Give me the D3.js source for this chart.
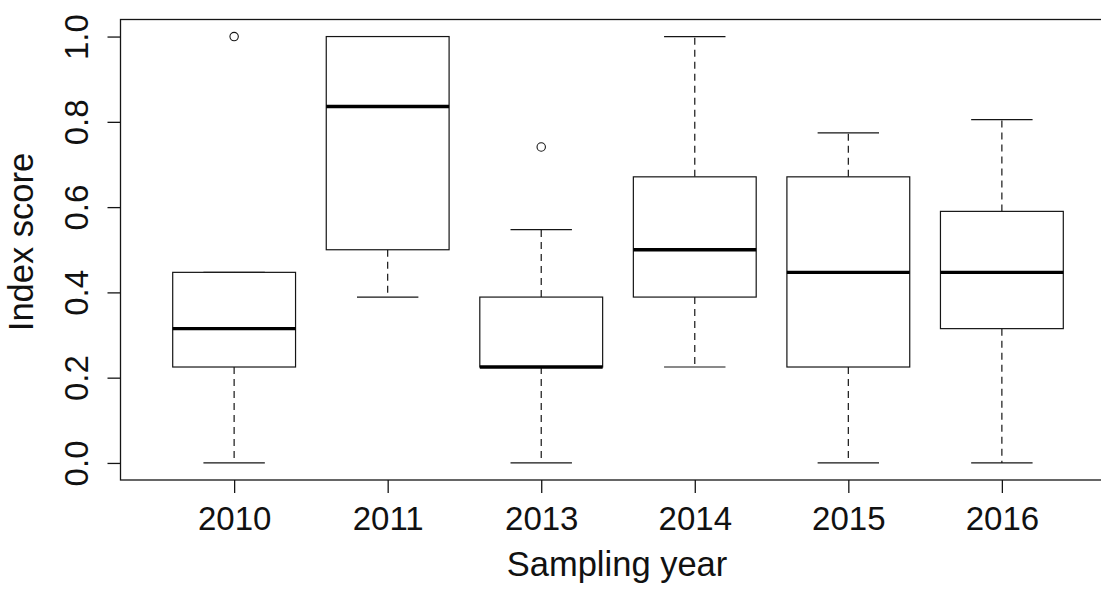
<!DOCTYPE html>
<html>
<head>
<meta charset="utf-8">
<script src="https://cdn.jsdelivr.net/npm/d3@7"></script>
<style>
  html, body { margin: 0; padding: 0; background: #fff; }
  svg { display: block; }
  text { font-family: "Liberation Sans", Arial, Helvetica, sans-serif; fill: #111; }
</style>
</head>
<body>
<svg id="chart" width="1101" height="590"></svg>
<script>
// Sampling years (categories) and five-number summaries per year
const years      = ["2010", "2011", "2013", "2014", "2015", "2016"];
const whiskerLow = [0.000, 0.389, 0.000, 0.225, 0.000, 0.000];
const q1         = [0.225, 0.500, 0.225, 0.389, 0.225, 0.315];
const medians    = [0.315, 0.836, 0.225, 0.500, 0.447, 0.447];
const q3         = [0.447, 1.000, 0.389, 0.671, 0.671, 0.590];
const whiskerHigh= [0.447, 1.000, 0.547, 1.000, 0.774, 0.805];
const outliers   = [[1.000], [], [0.741], [], [], []];
const yTicks     = [0, 0.2, 0.4, 0.6, 0.8, 1.0];

const boxes = years.map((yr, i) => ({
  year: yr, pos: i + 1,
  lo: whiskerLow[i], q1: q1[i], med: medians[i], q3: q3[i], hi: whiskerHigh[i],
  out: outliers[i]
}));

const svg = d3.select("#chart");
const ink = "#151515";

// Positions 1..n with R-style padding of 4% around [0.5, n + 0.5]
const x = d3.scaleLinear().domain([0.26, 6.74]).range([120.5, 1115.5]);
const y = d3.scaleLinear().domain([-0.04, 1.04]).range([480, 19.5]);

const unit = x(2) - x(1);
const boxW = 0.8 * unit;
const capW = boxW / 2;

const g = svg.append("g");

// Whiskers (dashed) and staples
const wg = g.selectAll("g.box").data(boxes).join("g").attr("class", "box");
wg.append("line")
  .attr("x1", d => x(d.pos)).attr("x2", d => x(d.pos))
  .attr("y1", d => y(d.q1)).attr("y2", d => y(d.lo))
  .attr("stroke", ink).attr("stroke-width", 1.2).attr("stroke-dasharray", "7,5");
wg.append("line")
  .attr("x1", d => x(d.pos)).attr("x2", d => x(d.pos))
  .attr("y1", d => y(d.q3)).attr("y2", d => y(d.hi))
  .attr("stroke", ink).attr("stroke-width", 1.2).attr("stroke-dasharray", "7,5");
wg.append("line")
  .attr("x1", d => x(d.pos) - capW / 2).attr("x2", d => x(d.pos) + capW / 2)
  .attr("y1", d => y(d.lo)).attr("y2", d => y(d.lo))
  .attr("stroke", ink).attr("stroke-width", 1.2);
wg.append("line")
  .attr("x1", d => x(d.pos) - capW / 2).attr("x2", d => x(d.pos) + capW / 2)
  .attr("y1", d => y(d.hi)).attr("y2", d => y(d.hi))
  .attr("stroke", ink).attr("stroke-width", 1.2);

// Interquartile boxes
wg.append("rect")
  .attr("x", d => x(d.pos) - boxW / 2)
  .attr("y", d => y(d.q3))
  .attr("width", boxW)
  .attr("height", d => y(d.q1) - y(d.q3))
  .attr("fill", "#fff").attr("stroke", ink).attr("stroke-width", 1.2);

// Medians
wg.append("line")
  .attr("x1", d => x(d.pos) - boxW / 2).attr("x2", d => x(d.pos) + boxW / 2)
  .attr("y1", d => y(d.med)).attr("y2", d => y(d.med))
  .attr("stroke", "#000").attr("stroke-width", 3.4);

// Outlying points
wg.selectAll("circle")
  .data(d => d.out.map(v => ({ pos: d.pos, v })))
  .join("circle")
  .attr("cx", d => x(d.pos)).attr("cy", d => y(d.v))
  .attr("r", 4.2).attr("fill", "none").attr("stroke", ink).attr("stroke-width", 1.1);

// Plot frame
svg.append("rect")
  .attr("x", x(0.26)).attr("y", y(1.04))
  .attr("width", x(6.74) - x(0.26)).attr("height", y(-0.04) - y(1.04))
  .attr("fill", "none").attr("stroke", ink).attr("stroke-width", 1.3);

// Y axis with rotated labels
const yAxis = svg.append("g")
  .attr("transform", `translate(${x(0.26)},0)`)
  .call(d3.axisLeft(y).tickValues(yTicks).tickSize(13).tickFormat(d3.format(".1f")));
yAxis.select(".domain").remove();
yAxis.selectAll(".tick line").attr("stroke", ink).attr("stroke-width", 1.3);
yAxis.selectAll(".tick text")
  .attr("transform", "rotate(-90)")
  .attr("x", 0).attr("y", -32.5).attr("dy", 0)
  .attr("text-anchor", "middle")
  .style("font-size", "33px").style("font-family", "'Liberation Sans', Arial, sans-serif")
  .attr("fill", "#111");

// X axis with year labels
const xAxis = svg.append("g")
  .attr("transform", `translate(0,${y(-0.04)})`)
  .call(d3.axisBottom(x).tickValues(boxes.map(d => d.pos)).tickSize(13)
    .tickFormat((d, i) => years[i]));
xAxis.select(".domain").remove();
xAxis.selectAll(".tick line").attr("stroke", ink).attr("stroke-width", 1.3);
xAxis.selectAll(".tick text")
  .attr("y", 50).attr("dy", 0)
  .style("font-size", "33px").style("font-family", "'Liberation Sans', Arial, sans-serif")
  .attr("fill", "#111");

// Axis titles
svg.append("text")
  .attr("x", 617).attr("y", 576)
  .attr("text-anchor", "middle")
  .style("font-size", "34.5px")
  .text("Sampling year");

svg.append("text")
  .attr("transform", "translate(33,242) rotate(-90)")
  .attr("text-anchor", "middle")
  .style("font-size", "34.5px")
  .text("Index score");
</script>
</body>
</html>
